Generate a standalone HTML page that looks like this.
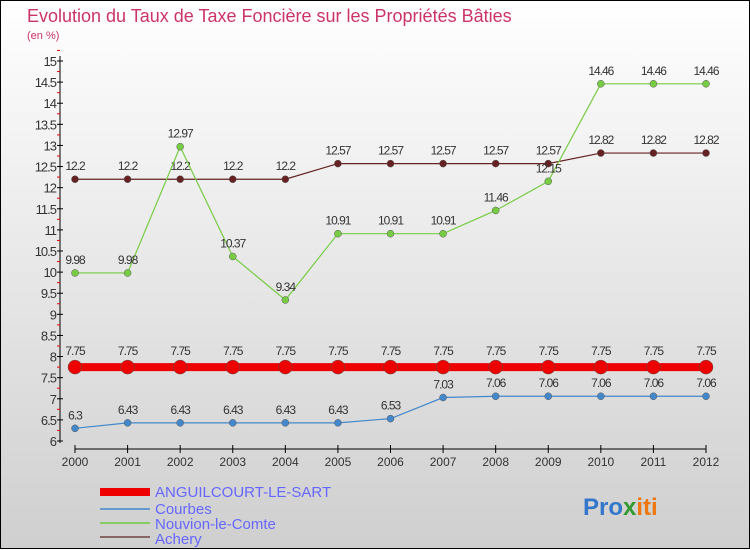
<!DOCTYPE html>
<html><head><meta charset="utf-8"><style>
body{margin:0;width:750px;height:550px;overflow:hidden;font-family:"Liberation Sans",sans-serif}
svg{display:block}
</style></head><body>
<svg id="c" width="750" height="550" xmlns="http://www.w3.org/2000/svg">
<defs><linearGradient id="bg" x1="0" y1="0" x2="0" y2="1"><stop offset="0" stop-color="#ffffff"/><stop offset="1" stop-color="#cfcfcf"/></linearGradient></defs>
<rect x="0.5" y="0.5" width="749" height="548" fill="url(#bg)" stroke="#000"/>
<text x="27" y="22" font-size="18" fill="#cc3366">Evolution du Taux de Taxe Foncière sur les Propriétés Bâties</text>
<text x="27" y="39" font-size="11" fill="#cc3366">(en %)</text>
<g id="axes"></g><g id="series"></g>
<g>
<rect x="100" y="488" width="50" height="8" fill="#ee0000"/>
<text x="155" y="497" font-size="15" fill="#6666ff">ANGUILCOURT-LE-SART</text>
<rect x="100" y="508" width="50" height="2" fill="#6699cc"/>
<text x="155" y="514" font-size="15" fill="#6666ff">Courbes</text>
<rect x="100" y="522" width="50" height="2" fill="#88cc66"/>
<text x="155" y="529" font-size="15" fill="#6666ff">Nouvion-le-Comte</text>
<rect x="100" y="536" width="50" height="2" fill="#886666"/>
<text x="155" y="544" font-size="15" fill="#6666ff">Achery</text>
</g>
<text x="583" y="515" font-size="24" font-weight="bold"><tspan fill="#3377cc">Pro</tspan><tspan fill="#339933">x</tspan><tspan fill="#ee7711">iti</tspan></text>
</svg>
<script>
const years=[2000,2001,2002,2003,2004,2005,2006,2007,2008,2009,2010,2011,2012];
const anguilcourt=[7.75,7.75,7.75,7.75,7.75,7.75,7.75,7.75,7.75,7.75,7.75,7.75,7.75];
const courbes=[6.3,6.43,6.43,6.43,6.43,6.43,6.53,7.03,7.06,7.06,7.06,7.06,7.06];
const nouvion=[9.98,9.98,12.97,10.37,9.34,10.91,10.91,10.91,11.46,12.15,14.46,14.46,14.46];
const achery=[12.2,12.2,12.2,12.2,12.2,12.57,12.57,12.57,12.57,12.57,12.82,12.82,12.82];
const yTicks=[6,6.5,7,7.5,8,8.5,9,9.5,10,10.5,11,11.5,12,12.5,13,13.5,14,14.5,15];
const NS="http://www.w3.org/2000/svg";
const xs=i=>75+i*(706-75)/(years.length-1);
const ys=v=>441-(v-6)*(441-61)/9;
function mk(t,a,p){const e=document.createElementNS(NS,t);for(const k in a)e.setAttribute(k,a[k]);p.appendChild(e);return e;}
const ax=document.getElementById('axes');
const yl=mk('line',{x1:60,y1:56,x2:60,y2:443,stroke:'#000'},ax);


yTicks.forEach(v=>{
 mk('line',{x1:57,x2:63,y1:ys(v),y2:ys(v),stroke:'#000'},ax);
 mk('line',{x1:57,x2:60,y1:ys(v+0.25),y2:ys(v+0.25),stroke:'#e00'},ax);
 const t=mk('text',{x:56,y:ys(v)+5,'font-size':13,'text-anchor':'end',fill:'#333','letter-spacing':'-1'},ax);
 t.textContent=v;
 
 
});
const xl=mk('line',{x1:75,y1:449,x2:706,y2:449,stroke:'#000'},ax);


years.forEach((y,i)=>{
 mk('line',{x1:xs(i),x2:xs(i),y1:445,y2:453,stroke:'#000'},ax);
 const t=mk('text',{x:xs(i),y:466,'font-size':12,'text-anchor':'middle',fill:'#333'},ax);
 t.textContent=y;
 
 
});
const sg=document.getElementById('series');
function draw(arr,col,w,r,name,lblOff){
 const g=mk('g',{},sg);
 
 
 const pl=mk('polyline',{points:arr.map((v,i)=>xs(i)+','+ys(v)).join(' '),fill:'none',stroke:col,'stroke-width':w},g);
 
 
 arr.forEach((v,i)=>{
  const c=mk('circle',{cx:xs(i),cy:ys(v),r:r,fill:col,stroke:'#555','stroke-width':0.5},g);
  
  
  const t=mk('text',{x:xs(i),y:ys(v)-lblOff,'font-size':12,'text-anchor':'middle',fill:'#333','letter-spacing':'-1'},g);
  t.textContent=v;
  
  
 });
}
draw(achery,'#662222',1.2,3.5,'achery',9);
draw(nouvion,'#77cc44',1.2,3.5,'nouvion',9);
draw(courbes,'#4488cc',1.2,3.5,'courbes',9);
draw(anguilcourt,'#ee0000',8,7,'anguilcourt',12);
</script>
</body></html>
